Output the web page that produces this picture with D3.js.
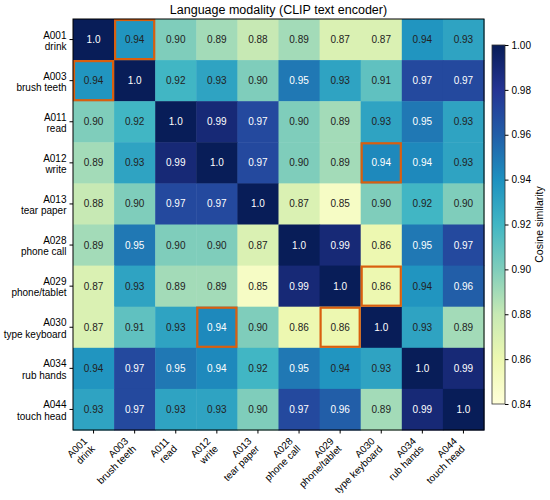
<!DOCTYPE html>
<html>
<head>
<meta charset="utf-8">
<script src="https://cdn.jsdelivr.net/npm/d3@7"></script>
<style>
  body { margin: 0; background: #fff; }
  text { font-family: "Liberation Sans", Arial, sans-serif; }
</style>
</head>
<body>
<div id="chart"></div>
<script>
// categories (code + action name)
var codes = ["A001", "A003", "A011", "A012", "A013", "A028", "A029", "A030", "A034", "A044"];
var names = ["drink", "brush teeth", "read", "write", "tear paper", "phone call", "phone/tablet", "type keyboard", "rub hands", "touch head"];

// cosine similarity, rows follow codes
var sim = [
  [1.0, 0.938, 0.90, 0.89, 0.88, 0.89, 0.87, 0.87, 0.938, 0.93],
  [0.938, 1.0, 0.92, 0.93, 0.90, 0.95, 0.93, 0.91, 0.97, 0.97],
  [0.90, 0.92, 1.0, 0.99, 0.97, 0.90, 0.89, 0.93, 0.95, 0.93],
  [0.89, 0.93, 0.99, 1.0, 0.97, 0.90, 0.89, 0.943, 0.943, 0.93],
  [0.88, 0.90, 0.97, 0.97, 1.0, 0.87, 0.85, 0.90, 0.92, 0.90],
  [0.89, 0.95, 0.90, 0.90, 0.87, 1.0, 0.99, 0.86, 0.95, 0.97],
  [0.87, 0.93, 0.89, 0.89, 0.85, 0.99, 1.0, 0.86, 0.938, 0.96],
  [0.87, 0.91, 0.93, 0.943, 0.90, 0.86, 0.86, 1.0, 0.93, 0.89],
  [0.938, 0.97, 0.95, 0.943, 0.92, 0.95, 0.938, 0.93, 1.0, 0.99],
  [0.93, 0.97, 0.93, 0.93, 0.90, 0.97, 0.96, 0.89, 0.99, 1.0]
];

// highlighted pairs [row, col]
var highlights = [["A001", "A003"], ["A003", "A001"], ["A012", "A030"], ["A030", "A012"], ["A029", "A030"], ["A030", "A029"]];

var cbTicks = [0.84, 0.86, 0.88, 0.90, 0.92, 0.94, 0.96, 0.98, 1.00];
var vmin = 0.84, vmax = 1.00;

var W = 550, H = 500;
var mLeft = 73, mTop = 19, size = 411;

var svg = d3.select("#chart").append("svg")
  .attr("width", W).attr("height", H);

var x = d3.scaleBand().domain(codes).range([mLeft, mLeft + size]);
var y = d3.scaleBand().domain(codes).range([mTop, mTop + size]);

// YlGnBu, piecewise linear like matplotlib
var stops = d3.schemeYlGnBu[9];
var color = d3.scaleLinear()
  .domain(stops.map(function(d, i) { return vmin + (vmax - vmin) * i / (stops.length - 1); }))
  .range(stops)
  .clamp(true);

var fmt = d3.format(".2g");

var cells = [];
sim.forEach(function(row, i) {
  row.forEach(function(v, j) {
    cells.push({ r: codes[i], c: codes[j], v: v });
  });
});

svg.append("g").selectAll("rect")
  .data(cells).enter().append("rect")
  .attr("x", function(d) { return x(d.c); })
  .attr("y", function(d) { return y(d.r); })
  .attr("width", x.bandwidth() + 0.5)
  .attr("height", y.bandwidth() + 0.5)
  .attr("fill", function(d) { return color(d.v); });

svg.append("g").selectAll("text")
  .data(cells).enter().append("text")
  .attr("x", function(d) { return x(d.c) + x.bandwidth() / 2; })
  .attr("y", function(d) { return y(d.r) + y.bandwidth() / 2; })
  .attr("dy", "0.35em")
  .attr("text-anchor", "middle")
  .attr("font-size", 10)
  .attr("fill", function(d) { return d.v > 0.94 ? "#fff" : "#222"; })
  .text(function(d) { return fmt(d.v); });

// orange boxes
svg.append("g").selectAll("rect")
  .data(highlights).enter().append("rect")
  .attr("x", function(d) { return x(d[1]) + 1; })
  .attr("y", function(d) { return y(d[0]) + 1; })
  .attr("width", x.bandwidth() - 2)
  .attr("height", y.bandwidth() - 2)
  .attr("fill", "none")
  .attr("stroke", "#d95f0e")
  .attr("stroke-width", 2.2);

// frame
svg.append("rect")
  .attr("x", mLeft).attr("y", mTop)
  .attr("width", size).attr("height", size)
  .attr("fill", "none").attr("stroke", "#000").attr("stroke-width", 1);

function nameOf(c) { return names[codes.indexOf(c)]; }

// y axis
var yAxis = svg.append("g")
  .attr("transform", "translate(" + mLeft + ",0)")
  .call(d3.axisLeft(y).tickSize(3.5).tickPadding(3).tickFormat(""));
yAxis.select(".domain").remove();
yAxis.selectAll("text").remove();
yAxis.selectAll(".tick").append("text")
  .attr("x", -6.5)
  .attr("text-anchor", "end")
  .attr("font-size", 10)
  .attr("fill", "#000")
  .each(function(c) {
    var t = d3.select(this);
    t.append("tspan").attr("x", -6.5).attr("dy", "-0.1em").text(c);
    t.append("tspan").attr("x", -6.5).attr("dy", "1.13em").text(nameOf(c));
  });

// x axis
var xAxis = svg.append("g")
  .attr("transform", "translate(0," + (mTop + size) + ")")
  .call(d3.axisBottom(x).tickSize(3.5).tickFormat(""));
xAxis.select(".domain").remove();
xAxis.selectAll("text").remove();
xAxis.selectAll(".tick").append("text")
  .attr("transform", "translate(-11,6.5) rotate(-45)")
  .attr("text-anchor", "end")
  .attr("font-size", 10)
  .attr("fill", "#000")
  .each(function(c) {
    var t = d3.select(this);
    t.append("tspan").attr("x", 0).attr("dy", "0.75em").text(c);
    t.append("tspan").attr("x", 0).attr("dy", "1.08em").text(nameOf(c));
  });

// title
svg.append("text")
  .attr("x", mLeft + size / 2)
  .attr("y", 14)
  .attr("text-anchor", "middle")
  .attr("font-size", 12.5)
  .text("Language modality (CLIP text encoder)");

// colorbar
var cbX = 492, cbW = 13, cbTop = 45, cbBot = 404;
var cy = d3.scaleLinear().domain([vmin, vmax]).range([cbBot, cbTop]);

var grad = svg.append("defs").append("linearGradient")
  .attr("id", "cbgrad")
  .attr("x1", 0).attr("y1", 1).attr("x2", 0).attr("y2", 0);
grad.selectAll("stop")
  .data(color.domain()).enter().append("stop")
  .attr("offset", function(d) { return (d - vmin) / (vmax - vmin); })
  .attr("stop-color", function(d) { return color(d); });

svg.append("rect")
  .attr("x", cbX).attr("y", cbTop)
  .attr("width", cbW).attr("height", cbBot - cbTop)
  .attr("fill", "url(#cbgrad)")
  .attr("stroke", "#333").attr("stroke-width", 0.8);

var cbAxis = svg.append("g")
  .attr("transform", "translate(" + (cbX + cbW) + ",0)")
  .call(d3.axisRight(cy).tickValues(cbTicks).tickFormat(d3.format(".2f")).tickSize(3.5).tickPadding(3));
cbAxis.select(".domain").remove();
cbAxis.selectAll("text").attr("font-size", 10).attr("font-family", "Liberation Sans, Arial, sans-serif").attr("fill", "#000");

svg.append("text")
  .attr("transform", "translate(543," + ((cbTop + cbBot) / 2) + ") rotate(-90)")
  .attr("text-anchor", "middle")
  .attr("font-size", 10.5)
  .text("Cosine similarity");
</script>
</body>
</html>
